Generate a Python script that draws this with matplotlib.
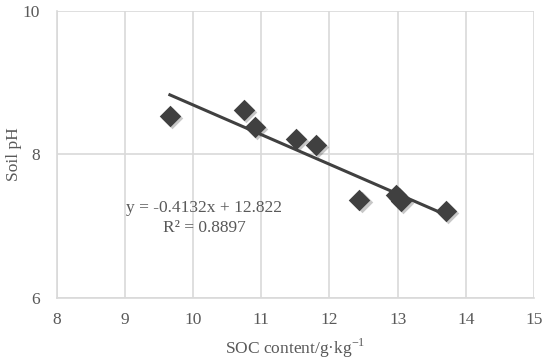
import numpy as np
import matplotlib.pyplot as plt
import matplotlib.transforms as mtransforms

soc = [9.66, 10.75, 10.91, 11.51, 11.80, 12.44, 12.98, 13.05, 13.02, 13.71]
ph = [8.54, 8.62, 8.38, 8.22, 8.13, 7.37, 7.44, 7.35, 7.40, 7.21]
slope = -0.4132
intercept = 12.822
r2 = 0.8897

plt.rcParams['font.family'] = ['Liberation Serif', 'DejaVu Serif']
txt = '#595959'
grid = '#d9d9d9'
fs = 12.5

fig = plt.figure(figsize=(5.5, 3.63), dpi=100)
ax = fig.add_axes([0.103, 0.179, 0.868, 0.791])

ax.set_xlim(8, 15)
ax.set_ylim(6, 10)
ax.set_xticks(range(8, 16))
ax.set_yticks([6, 8, 10])
ax.grid(True, color=grid, linewidth=1.2)
ax.set_axisbelow(True)
for s in ax.spines.values():
    s.set_visible(False)
ax.spines['left'].set_visible(True)
ax.spines['bottom'].set_visible(True)
ax.spines['left'].set_color(grid)
ax.spines['bottom'].set_color(grid)
ax.spines['left'].set_linewidth(1.2)
ax.spines['bottom'].set_linewidth(1.2)
ax.tick_params(length=0, labelsize=fs, labelcolor=txt, pad=10)
ax.tick_params(axis='y', pad=12)

# soft shadow under markers
shadow = mtransforms.offset_copy(ax.transData, fig=fig, x=1.5, y=-1.5, units='points')
ax.scatter(soc, ph, marker='D', s=120, color='#000000', alpha=0.22,
           transform=shadow, zorder=2, linewidths=0)
ax.scatter(soc, ph, marker='D', s=120, color='#404040', zorder=3, linewidths=0)

xs = np.array([min(soc), max(soc)])
ax.plot(xs, slope * xs + intercept, color='#404040', linewidth=2.2, zorder=4)

ax.text(10.16, 7.25, 'y = -0.4132x + 12.822', fontsize=fs, color=txt, ha='center', va='center')
ax.text(10.16, 6.98, 'R² = 0.8897', fontsize=fs, color=txt, ha='center', va='center')

ax.set_xlabel('SOC content/g·kg$^{\\mathregular{-1}}$', fontsize=fs, color=txt, labelpad=6)
ax.set_ylabel('Soil pH', fontsize=fs, color=txt)
ax.yaxis.set_label_coords(-0.072, 0.5)

fig.savefig('out.png', dpi=100)
